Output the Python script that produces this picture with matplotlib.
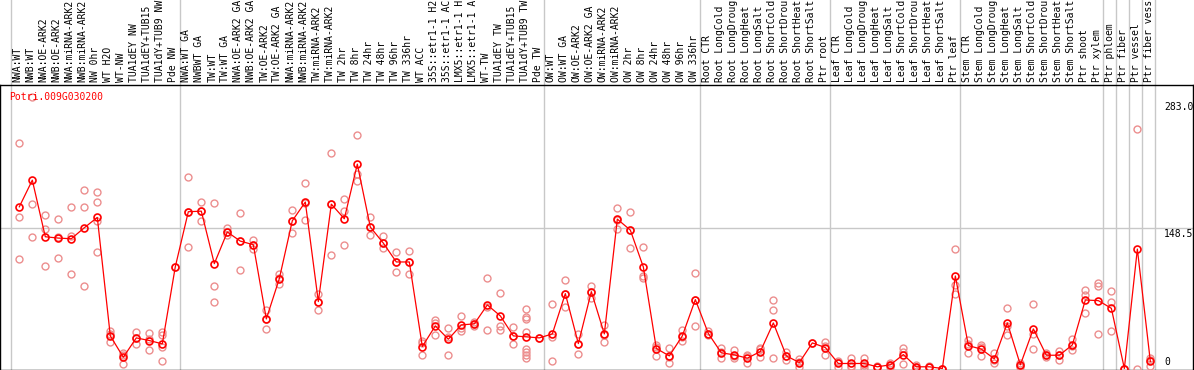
import matplotlib
matplotlib.use("Agg")
import matplotlib.pyplot as plt
import matplotlib.transforms as mtransforms

# ---------------- data ----------------
labels = ["NWA:WT", "NWB:WT", "NWA:OE-ARK2", "NWB:OE-ARK2", "NWA:miRNA-ARK2", "NWB:miRNA-ARK2",
          "NW 0hr", "WT H2O", "WT-NW", "TUA1dEY NW", "TUA1dEY+TUB15 NW", "TUA1dY+TUB9 NW", "Pde NW",
          "NWA:WT GA", "NWBWT GA", "TW:WT", "TW:WT GA", "NWA:OE-ARK2 GA", "NWB:OE-ARK2 GA",
          "TW:OE-ARK2", "TW:OE-ARK2 GA", "NWA:miRNA-ARK2 GA", "NWB:miRNA-ARK2 GA", "TW:miRNA-ARK2",
          "TW:miRNA-ARK2 GA", "TW 2hr", "TW 8hr", "TW 24hr", "TW 48hr", "TW 96hr", "TW 336hr",
          "WT ACC", "35S::etr1-1 H2O", "35S::etr1-1 ACC", "LMX5::etr1-1 H2O", "LMX5::etr1-1 ACC",
          "WT-TW", "TUA1dEY TW", "TUA1dEY+TUB15 TW", "TUA1dY+TUB9 TW", "Pde TW",
          "OW:WT", "OW:WT GA", "OW:OE-ARK2", "OW:OE-ARK2 GA", "OW:miRNA-ARK2", "OW:miRNA-ARK2 GA",
          "OW 2hr", "OW 8hr", "OW 24hr", "OW 48hr", "OW 96hr", "OW 336hr",
          "Root CTR", "Root LongCold", "Root LongDrought", "Root LongHeat", "Root LongSalt",
          "Root ShortCold", "Root ShortDrought", "Root ShortHeat", "Root ShortSalt", "Ptr root",
          "Leaf CTR", "Leaf LongCold", "Leaf LongDrought", "Leaf LongHeat", "Leaf LongSalt",
          "Leaf ShortCold", "Leaf ShortDrought", "Leaf ShortHeat", "Leaf ShortSalt", "Ptr leaf",
          "Stem CTR", "Stem LongCold", "Stem LongDrought", "Stem LongHeat", "Stem LongSalt",
          "Stem ShortCold", "Stem ShortDrought", "Stem ShortHeat", "Stem ShortSalt", "Ptr shoot",
          "Ptr xylem", "Ptr phloem", "Ptr fiber", "Ptr vessel", "Ptr fiber vessel"]

means = [170.6, 198.7, 139.0, 137.6, 136.9, 148.5, 159.4, 34.4, 11.9, 32.3, 29.5, 26.0, 107.4,
         165.4, 166.0, 110.6, 144.0, 134.4, 130.6, 52.3, 94.8, 155.9, 175.6, 70.6, 173.4, 158.0,
         215.6, 149.2, 132.3, 112.4, 112.4, 23.2, 45.0, 30.9, 46.0, 47.1, 67.1, 55.5, 34.4, 33.4, 32.3,
         36.5, 79.0, 26.3, 81.1, 36.5, 157.6, 146.0, 107.1, 21.1, 13.3, 34.4, 72.7,
         36.9, 16.5, 14.4, 10.9, 17.9, 48.1, 13.3, 6.3, 27.0, 22.1,
         5.3, 5.3, 5.3, 1.8, 3.9, 14.7, 1.8, 1.8, 0.0, 97.6,
         24.2, 20.4, 10.2, 48.1, 3.9, 41.8, 14.0, 14.0, 24.9, 72.3, 71.6,
         63.5, 0.0, 126.0, 7.4]

replicates = [
    [237.7, 159.7, 115.5], [286.0, 173.4, 139.0], [161.8, 147.1, 108.5], [157.6, 138.6, 116.6],
    [170.6, 140.0, 100.0], [188.2, 170.3, 87.1], [186.1, 175.6, 155.9, 122.9], [39.3, 36.0, 28.1],
    [16.5, 14.0, 4.9], [38.3, 32.0, 26.3], [37.9, 31.0, 19.7], [38.0, 35.8, 22.4, 7.4], [107.4],
    [201.9, 165.0, 128.2], [175.6, 166.0, 155.9], [174.5, 87.1, 70.6], [148.2, 144.0, 140.4],
    [164.0, 135.0, 103.9], [135.1, 130.6, 126.0], [62.1, 52.5, 42.1], [99.7, 95.0, 89.2],
    [167.5, 156.0, 142.9], [195.6, 175.0, 156.6], [79.0, 70.6, 62.1], [227.2, 173.4, 119.7],
    [178.7, 166.4, 130.6], [246.1, 205.0, 197.3], [160.1, 149.2, 141.1], [140.0, 132.3, 127.1],
    [122.9, 112.4, 102.2], [124.0, 112.4, 99.7], [28.5, 27.0, 14.0], [51.6, 48.0, 35.1],
    [42.8, 33.0, 14.4], [55.5, 43.0, 39.7], [49.0, 47.1, 45.0], [95.5, 64.5, 41.1],
    [80.0, 44.6, 41.1], [43.9, 34.4, 25.6], [63.2, 54.8, 52.3, 38.6, 20.7, 17.6, 14.0, 11.2], [32.3],
    [68.5, 33.0, 8.4], [93.4, 79.0, 64.6], [36.9, 26.3, 15.5], [87.4, 81.1, 74.5], [46.0, 35.4, 28.1],
    [169.2, 156.5, 147.1], [165.0, 146.0, 127.1], [128.5, 97.9, 95.1], [25.3, 23.0, 13.7],
    [22.1, 11.8, 6.0], [40.7, 33.7, 28.8], [101.1, 72.0, 45.0],
    [40.0, 36.0, 35.0], [21.4, 17.0, 10.9], [19.3, 13.0, 10.9], [14.7, 12.7, 5.3], [21.4, 20.4, 11.9],
    [72.3, 61.8, 11.6], [17.9, 13.3, 8.8], [10.2, 6.9, 1.8], [27.0], [28.1, 23.8, 14.4],
    [7.7, 6.4, 1.8], [11.2, 2.9, 1.8], [10.9, 4.2, 0.8], [2.2, 1.8, 1.4], [6.0, 4.0, 1.7],
    [22.1, 17.1, 4.9], [3.9, 1.5, 0.0], [2.2, 1.8, 1.4], [0.0, 0.0, 0.0], [126.4, 88.5, 79.0],
    [29.8, 26.3, 16.5], [24.9, 22.6, 13.7], [16.1, 8.5, 6.0], [63.9, 45.0, 35.4], [6.0, 4.2, 1.5],
    [68.1, 36.6, 20.7], [16.0, 14.0, 12.0], [18.6, 14.0, 9.5], [30.9, 24.1, 19.7],
    [82.9, 77.2, 58.6], [90.6, 86.7, 36.5],
    [81.8, 70.6, 40.0], [0.0, 0.0, 0.0], [252.4, 0.0], [11.2, 8.8, 2.2]]

group_starts = [0, 13, 41, 53, 63, 73, 84, 85, 86, 87, 88]
ytick_values = [283.0, 148.5, 0]
ytick_labels = ["283.0", "148.5", "0"]
gene = "Potri.009G030200"

# ---------------- figure ----------------
W, H = 1194, 370
fig = plt.figure(figsize=(W / 100, H / 100), dpi=100)
plot_h = 285
ax = fig.add_axes([0, 0.5 / H, 1193 / W, (plot_h - 0.5) / H])

mono = "DejaVu Sans Mono"
red = "#ff0000"
pink = "#ec8e8e"
grey = "#c8c8c8"

x = list(range(len(means)))

# replicates
for i, reps in enumerate(replicates):
    ax.plot([i] * len(reps), reps, linestyle="none", marker="o", markersize=5.0,
            markerfacecolor="none", markeredgecolor=pink, markeredgewidth=1.0, zorder=3,
            clip_on=False)

# mean line + markers
ax.plot(x, means, color=red, linewidth=0.9, marker="o", markersize=5.0,
        markerfacecolor="none", markeredgecolor=red, markeredgewidth=1.2, zorder=4)

ax.set_xlim(-1.485, 90.28)
ax.set_ylim(-1.05, 299.1)
ax.set_xticks([])
ax.set_yticks([])
for s in ax.spines.values():
    s.set_color("black")
    s.set_linewidth(1.0)

# grid lines
ax.axhline(148.5, color=grey, linewidth=1.0, zorder=1)
for k in group_starts:
    ax.axvline(k - 0.64, ymin=0, ymax=H / plot_h, color=grey, linewidth=1.0,
               zorder=1, clip_on=False)

# category labels (rotated, above the plot)
trans_lab = mtransforms.blended_transform_factory(ax.transData, ax.transAxes)
for i, lab in enumerate(labels):
    ax.text(i - 0.14, 1 + 3 / plot_h, lab[:14], rotation=90, ha="center", va="bottom",
            fontsize=7, family=mono, color="black", transform=trans_lab, clip_on=False)

# gene name
ax.text(9.5 / 1193, (H - 97) / plot_h, gene, color=red, fontsize=7, family=mono,
        ha="left", va="center", transform=ax.transAxes)

# right axis value labels
trans_y = mtransforms.blended_transform_factory(ax.transAxes, ax.transData)
for v, t in zip(ytick_values, ytick_labels):
    if v == 0:
        tr = mtransforms.offset_copy(trans_y, fig=fig, x=0, y=2, units="dots")
        va = "bottom"
    else:
        tr = mtransforms.offset_copy(trans_y, fig=fig, x=0, y=-1.5, units="dots")
        va = "top"
    ax.text(1164 / 1193, v, t, fontsize=7, family=mono, ha="left", va=va,
            transform=tr, color="black")

fig.savefig("out.png", dpi=100)
